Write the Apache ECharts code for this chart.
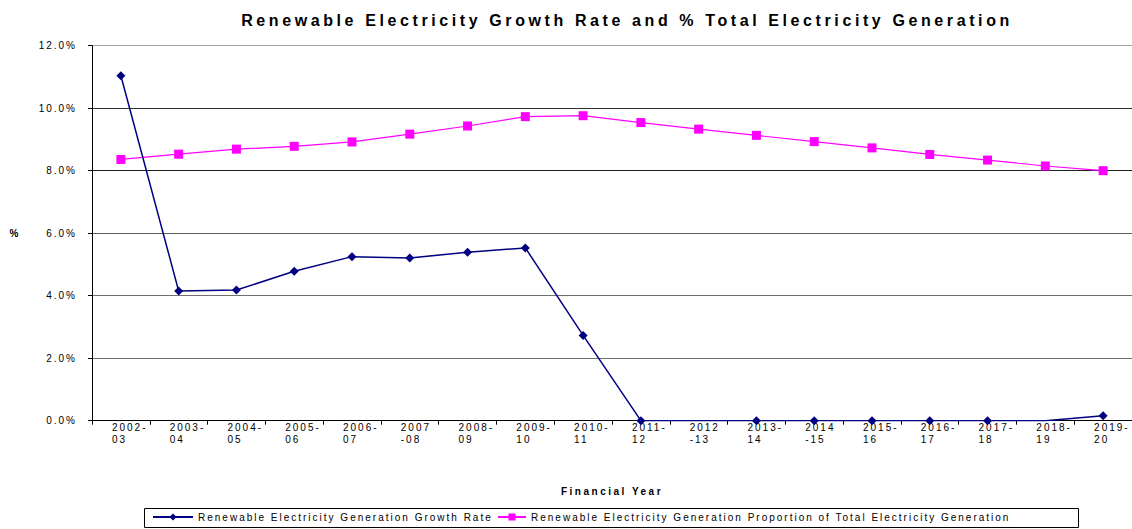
<!DOCTYPE html>
<html>
<head>
<meta charset="utf-8">
<script src="https://cdn.jsdelivr.net/npm/echarts@6/dist/echarts.min.js"></script>
<style>
  html, body { margin: 0; padding: 0; background: #fff; }
  #chart { width: 1132px; height: 529px; }
  /* the original is an Excel export with widely spaced letters */
  #chart svg text { letter-spacing: 2px; }
  #chart svg text[style*="bold"] { letter-spacing: 2.5px; }
  #chart svg text[style*="16px"] { letter-spacing: 3.6px; }
</style>
</head>
<body>
<div id="chart"></div>
<script>
// financial years (labels wrap like in the source sheet)
const years = ['2002-\n03', '2003-\n04', '2004-\n05', '2005-\n06', '2006-\n07', '2007\n-08',
  '2008-\n09', '2009-\n10', '2010-\n11', '2011-\n12', '2012\n-13', '2013-\n14',
  '2014\n-15', '2015-\n16', '2016-\n17', '2017-\n18', '2018-\n19', '2019-\n20'];

// growth rate, % (2012-13 and 2018-19 have no marker in the source)
const growthRate = [11.04, 4.15, 4.18, 4.78, 5.25, 5.21, 5.39, 5.53, 2.73, 0,
  0, 0, 0, 0, 0, 0, 0, 0.16];
const noMarker = [10, 16];

// share of total electricity generation, %
const proportion = [8.36, 8.53, 8.69, 8.78, 8.92, 9.17, 9.43, 9.73, 9.76, 9.54,
  9.33, 9.13, 8.93, 8.73, 8.52, 8.34, 8.15, 8.0];

const yTicks = [0, 2, 4, 6, 8, 10, 12];

const growthName = 'Renewable Electricity Generation Growth Rate';
const propName = 'Renewable Electricity Generation Proportion of Total Electricity Generation';

const FONT = 'Liberation Sans';

const chart = echarts.init(document.getElementById('chart'), null, { renderer: 'svg' });

chart.setOption({
  animation: false,
  backgroundColor: '#fff',
  title: {
    text: 'Renewable Electricity Growth Rate and % Total Electricity Generation',
    left: 622,
    top: 7,
    textAlign: 'center',
    textStyle: { fontFamily: FONT, fontSize: 16, fontWeight: 'bold', color: '#000' }
  },
  grid: { left: 92, right: -3, top: 45.7, bottom: 108.3 },
  legend: [
    {
      data: [growthName],
      left: 152, top: 512, padding: 0,
      itemWidth: 40, itemHeight: 9,
      textStyle: { fontFamily: FONT, fontSize: 10, color: '#000' }
    },
    {
      data: [propName],
      left: 497, top: 512, padding: 0,
      itemWidth: 28, itemHeight: 9,
      textStyle: { fontFamily: FONT, fontSize: 10, color: '#000' }
    }
  ],
  graphic: [{
    type: 'rect',
    shape: { x: 144.5, y: 508.5, width: 934, height: 19 },
    style: { fill: 'none', stroke: '#000', lineWidth: 1 },
    z: 0
  }],
  xAxis: {
    type: 'category',
    data: years,
    boundaryGap: true,
    name: 'Financial Year',
    nameLocation: 'middle',
    nameGap: 66,
    nameTextStyle: { fontFamily: FONT, fontSize: 10, fontWeight: 'bold', color: '#000' },
    axisLine: { lineStyle: { color: '#000', width: 1 } },
    axisTick: { show: true, interval: 0, length: 4, lineStyle: { color: '#000' } },
    axisLabel: {
      interval: 0,
      margin: 1,
      align: 'left',
      padding: [0, 0, 0, -9],
      lineHeight: 12,
      fontFamily: FONT, fontSize: 10, color: '#000'
    },
    splitLine: { show: false }
  },
  yAxis: {
    type: 'value',
    min: yTicks[0],
    max: yTicks[yTicks.length - 1],
    interval: 2,
    name: '%',
    nameLocation: 'middle',
    nameRotate: 0,
    nameGap: 71,
    nameTextStyle: { fontFamily: FONT, fontSize: 10, fontWeight: 'bold', color: '#000', padding: [0, 0, 8, 0] },
    axisLine: { show: true, lineStyle: { color: '#000', width: 1 } },
    axisTick: { show: true, length: 4, lineStyle: { color: '#000' } },
    axisLabel: {
      margin: 15,
      fontFamily: FONT, fontSize: 10, color: '#000',
      formatter: v => v.toFixed(1) + '%'
    },
    splitLine: {
      show: true,
      lineStyle: { color: ['#808080', '#707070', '#707070', '#606060', '#202020', '#303030', '#a0a0a0'], width: 1 }
    }
  },
  series: [
    {
      name: growthName,
      type: 'line',
      data: growthRate.map((v, i) => noMarker.includes(i) ? { value: v, symbol: 'none' } : v),
      symbol: 'diamond',
      symbolSize: 9,
      color: '#000080',
      lineStyle: { color: '#000080', width: 1.5 },
      itemStyle: { color: '#000080' },
      z: 3
    },
    {
      name: propName,
      type: 'line',
      data: proportion,
      symbol: 'rect',
      symbolSize: 9,
      color: '#ff00ff',
      lineStyle: { color: '#ff00ff', width: 1.2 },
      itemStyle: { color: '#ff00ff' },
      z: 2
    }
  ]
});
</script>
</body>
</html>
